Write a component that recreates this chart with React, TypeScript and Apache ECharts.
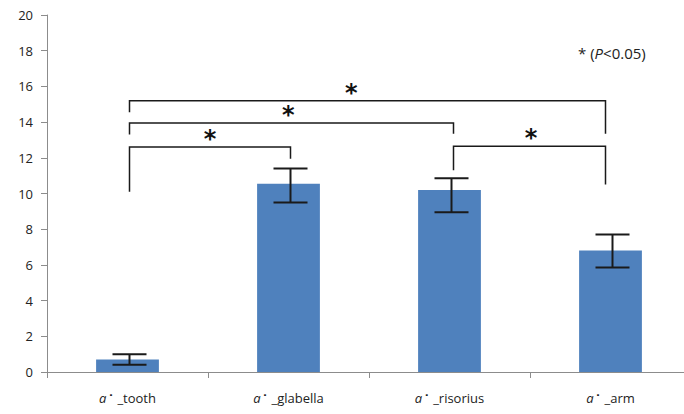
import React, { useEffect, useRef } from "react";
import * as echarts from "echarts";

const categories = ["tooth", "glabella", "risorius", "arm"];
const means = [0.7, 10.55, 10.2, 6.8];
const errLow = [0.4, 9.5, 8.95, 5.85];
const errHigh = [1.0, 11.4, 10.85, 7.7];
const yTicks = [0, 2, 4, 6, 8, 10, 12, 14, 16, 18, 20];

// brackets: [leftCat, rightCat, leftLegBottom, top, rightLegBottom, starFraction]
const brackets = [
  [0, 1, 10.1, 12.6, 11.95, 0.5],
  [0, 2, 13.3, 13.95, 13.35, 0.49],
  [0, 3, 14.55, 15.2, 13.35, 0.466],
  [2, 3, 11.3, 12.65, 10.5, 0.51],
];

export default function App() {
  const ref = useRef<HTMLDivElement>(null);
  useEffect(() => {
    const chart = echarts.init(ref.current!, null, { renderer: "svg" });
    const font = "'Open Sans', sans-serif";
    const legShift = [2, 2, 4, -5];
    chart.setOption({
      animation: false,
      grid: { left: 47, right: 9, top: 15, bottom: 42 },
      xAxis: {
        type: "category",
        data: categories,
        axisLine: { lineStyle: { color: "#8c8c8c", width: 1 } },
        axisTick: { show: true, length: 6, lineStyle: { color: "#8c8c8c" } },
        axisLabel: {
          margin: 17,
          color: "#222",
          fontFamily: font,
          fontSize: 13,
          formatter: (v: string) => "{i|a}{d|˙}_" + v,
          rich: {
            i: { fontStyle: "italic", fontFamily: font, fontSize: 13, color: "#222" },
            d: { fontFamily: "'DejaVu Sans', sans-serif", fontSize: 14, fontWeight: "bold", color: "#222", padding: [4, 3, 0, 1] },
          },
        },
      },
      yAxis: {
        type: "value",
        min: yTicks[0],
        max: yTicks[yTicks.length - 1],
        interval: 2,
        splitLine: { show: false },
        axisLine: { show: true, lineStyle: { color: "#8c8c8c" } },
        axisTick: { show: true, length: 6, lineStyle: { color: "#8c8c8c" } },
        axisLabel: { margin: 14, color: "#222", fontFamily: font, fontSize: 13 },
      },
      series: [
        {
          type: "bar",
          data: means,
          barWidth: "39%",
          itemStyle: { color: "#4F81BD" },
        },
        {
          type: "custom",
          data: categories.map((_, i) => [i, errLow[i], errHigh[i]]),
          z: 5,
          renderItem: (params: any, api: any) => {
            const i = api.value(0);
            const lo = api.coord([i, api.value(1)]);
            const hi = api.coord([i, api.value(2)]);
            const x = lo[0] + 2;
            const hw = 17;
            const style = { stroke: "#1a1a1a", lineWidth: 2 };
            return {
              type: "group",
              children: [
                { type: "line", shape: { x1: x, y1: lo[1], x2: x, y2: hi[1] }, style },
                { type: "line", shape: { x1: x - hw, y1: lo[1], x2: x + hw, y2: lo[1] }, style },
                { type: "line", shape: { x1: x - hw, y1: hi[1], x2: x + hw, y2: hi[1] }, style },
              ],
            };
          },
        },
        {
          type: "custom",
          data: brackets,
          z: 6,
          renderItem: (params: any, api: any) => {
            const a = api.value(0);
            const b = api.value(1);
            const pL = api.coord([a, api.value(2)]);
            const pT = api.coord([a, api.value(3)]);
            const pR = api.coord([b, api.value(4)]);
            const t = api.value(5);
            const xL = pL[0] + legShift[a];
            const xR = pR[0] + legShift[b];
            const style = { stroke: "#1a1a1a", lineWidth: 1.5, fill: null };
            const sx = xL + (xR - xL) * t;
            return {
              type: "group",
              children: [
                {
                  type: "polyline",
                  shape: { points: [[xL, pL[1]], [xL, pT[1]], [xR, pT[1]], [xR, pR[1]]] },
                  style,
                },
                {
                  type: "text",
                  style: {
                    text: "*",
                    x: sx,
                    y: pT[1] + 4,
                    fill: "#111",
                    font: "bold 24px 'DejaVu Sans', sans-serif",
                    align: "center",
                    verticalAlign: "bottom",
                  },
                  silent: true,
                },
              ],
            };
          },
        },
      ],
      graphic: [
        {
          type: "text",
          left: 578,
          top: 45,
          style: {
            text: "{n|* (}{p|P}{n|<0.05)}",
            rich: {
              n: { fontFamily: font, fontSize: 15, fill: "#222" },
              p: { fontFamily: font, fontSize: 15, fontStyle: "italic", fill: "#222" },
            },
          },
        },
      ],
    });
    return () => chart.dispose();
  }, []);
  return (
    <div style={{ width: 684, height: 414, overflow: "hidden", position: "absolute", left: 0, top: 0 }}>
      <div ref={ref} style={{ width: 700, height: 414 }} />
    </div>
  );
}
